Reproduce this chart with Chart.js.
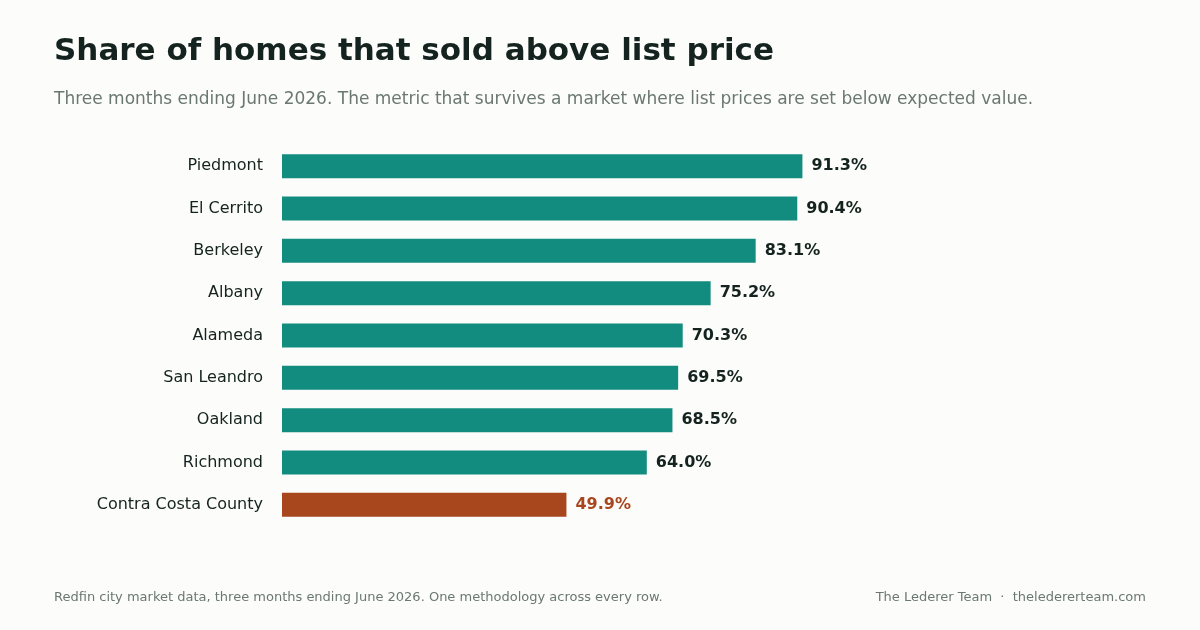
<!DOCTYPE html>
<html><head><meta charset="utf-8">
<script src="https://cdn.jsdelivr.net/npm/chart.js@4"></script>
<style>
body{margin:0;background:#fcfcfa;font-family:"DejaVu Sans",sans-serif;}
#wrap{position:relative;width:1200px;height:630px;}
canvas{position:absolute;left:0;top:0;}
.t{position:absolute;left:54px;top:31px;font-size:31px;font-weight:bold;color:#14231f;}
.s{position:absolute;left:54px;top:88px;font-size:17px;color:#6b7872;}
.f{position:absolute;top:589px;font-size:13px;color:#6b7872;}
</style></head><body>
<div id="wrap">
<canvas id="c" width="1200" height="630"></canvas>
<div class="t">Share of homes that sold above list price</div>
<div class="s">Three months ending June 2026. The metric that survives a market where list prices are set below expected value.</div>
<div class="f" style="left:54px">Redfin city market data, three months ending June 2026. One methodology across every row.</div>
<div class="f" style="right:54px">The Lederer Team &nbsp;·&nbsp; thelederer­team.com</div>
</div>
<script>
const categories=["Piedmont","El Cerrito","Berkeley","Albany","Alameda","San Leandro","Oakland","Richmond","Contra Costa County"];
const values=[91.3,90.4,83.1,75.2,70.3,69.5,68.5,64.0,49.9];
const colors=values.map((v,i)=>i===values.length-1?"#a8461e":"#128c7e");
const labelPlugin={id:"lbl",afterDatasetsDraw(ch){const c=ch.ctx;const m=ch.getDatasetMeta(0);c.save();c.font="bold 16px 'DejaVu Sans'";c.textBaseline="middle";
m.data.forEach((b,i)=>{c.fillStyle=i===values.length-1?"#a8461e":"#14231f";c.fillText(values[i].toFixed(1)+"%",b.x+9,b.y);});c.restore();}};
new Chart(document.getElementById("c"),{type:"bar",
data:{labels:categories,datasets:[{data:values,backgroundColor:colors,barPercentage:0.8,categoryPercentage:0.71}]},
options:{indexAxis:"y",responsive:false,animation:false,
layout:{padding:{top:145,bottom:104,right:348,left:0}},
plugins:{legend:{display:false},tooltip:{enabled:false}},
scales:{x:{min:0,max:100,display:false},
y:{grid:{display:false},border:{display:false},afterFit(s){s.width=282;},
ticks:{color:"#14231f",font:{size:16,family:"DejaVu Sans"},padding:11}}}},
plugins:[labelPlugin]});
</script></body></html>
